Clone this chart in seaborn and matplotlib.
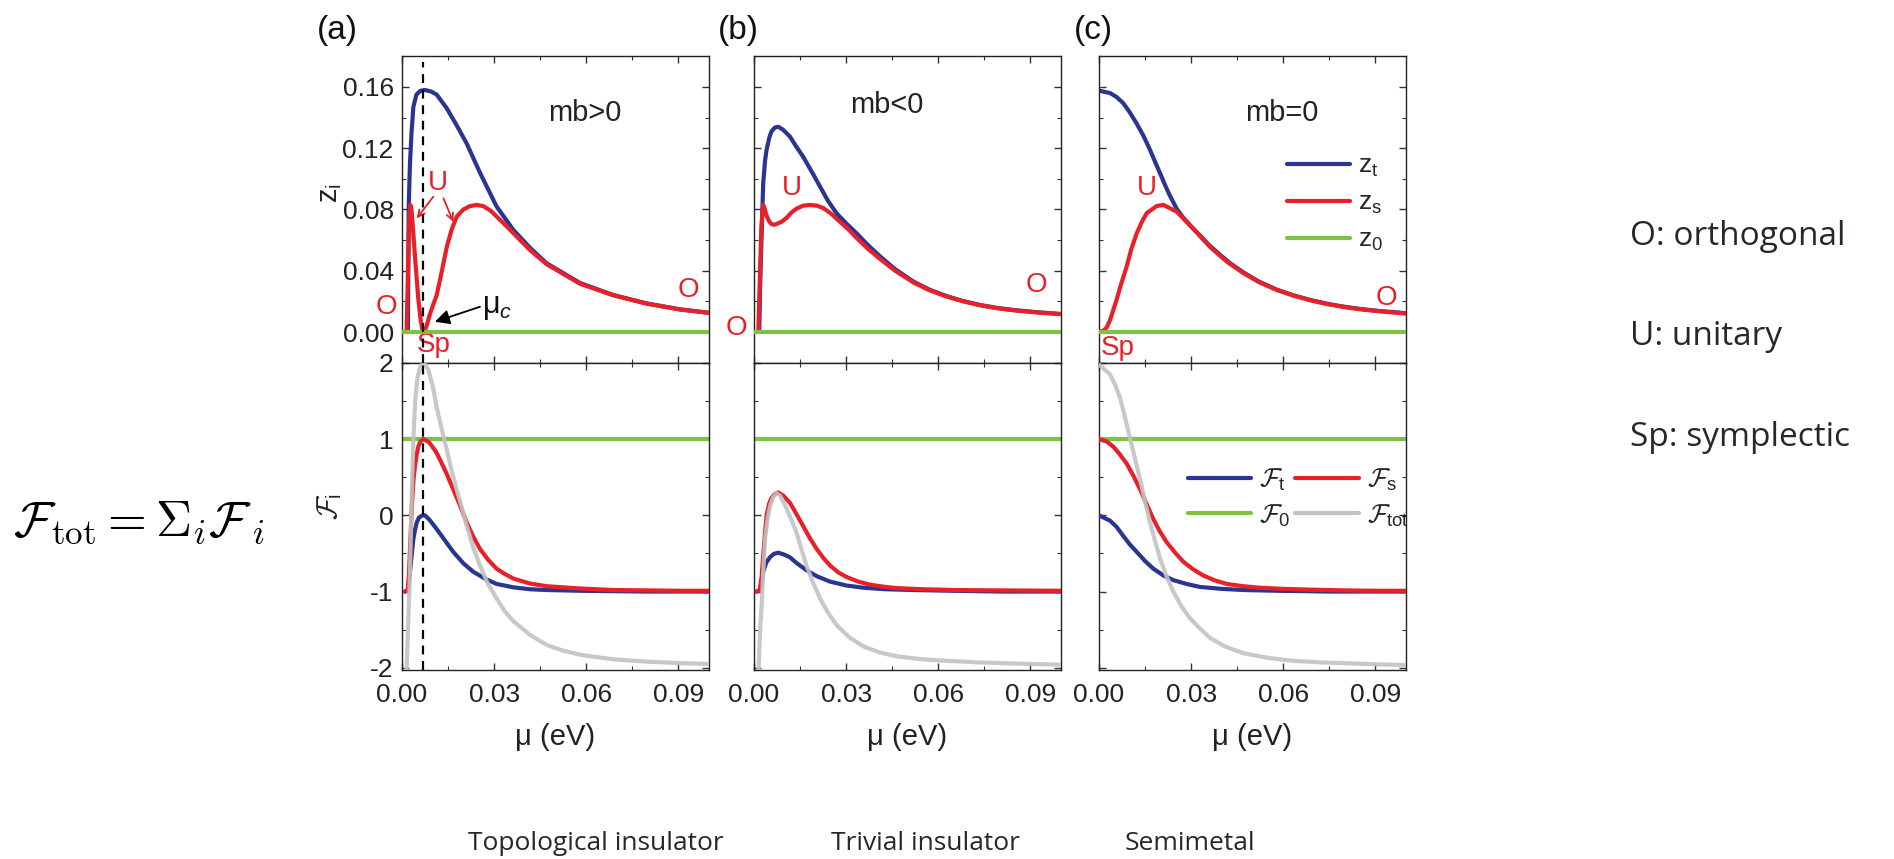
import matplotlib
matplotlib.use("Agg")
import matplotlib.pyplot as plt
import seaborn as sns
from matplotlib.ticker import MultipleLocator, FixedLocator
from matplotlib.lines import Line2D

# ---------------- data: chemical potential mu (eV) and curves ----------------
# (a) topological insulator, mb > 0
mu_a_zt = [0.0019, 0.0022, 0.0026, 0.0031, 0.0037, 0.0047, 0.0060, 0.0075, 0.0095,
           0.0113, 0.0146, 0.0178, 0.0211, 0.0254, 0.0308, 0.0363, 0.0417, 0.0471,
           0.0580, 0.0688, 0.0797, 0.0906, 0.1000]
a_zt = [0.000, 0.083, 0.110, 0.130, 0.147, 0.155, 0.1575, 0.158, 0.157,
        0.155, 0.146, 0.135, 0.123, 0.104, 0.082, 0.0666, 0.055, 0.0449,
        0.032, 0.0242, 0.0187, 0.0148, 0.0126]
mu_a_zs = [0.0015, 0.0019, 0.0023, 0.0027, 0.0031, 0.0037, 0.0045, 0.0053, 0.0060,
           0.0066, 0.0072, 0.0080, 0.0090, 0.0100, 0.0113, 0.0130, 0.0146, 0.0162,
           0.0178, 0.0200, 0.0221, 0.0243, 0.0265, 0.0290, 0.0341, 0.0380, 0.0417,
           0.0471, 0.0580, 0.0688, 0.0797, 0.0906, 0.1000]
a_zs = [0.000, 0.035, 0.070, 0.083, 0.080, 0.064, 0.042, 0.022, 0.009,
        0.002, 0.000, 0.004, 0.011, 0.017, 0.024, 0.040, 0.0557, 0.067,
        0.0753, 0.0800, 0.0822, 0.0830, 0.0822, 0.0790, 0.0690, 0.0610, 0.0535,
        0.0443, 0.0315, 0.0240, 0.0185, 0.0147, 0.0125]
mu_a_ft = [0.0010, 0.0019, 0.0026, 0.0032, 0.0037, 0.0043, 0.0048, 0.0055, 0.0065,
           0.0075, 0.0090, 0.0113, 0.0140, 0.0167, 0.0200, 0.0232, 0.0270, 0.0308,
           0.0363, 0.0417, 0.0471, 0.0580, 0.0797, 0.1000]
a_ft = [-1.00, -0.98, -0.74, -0.50, -0.31, -0.18, -0.095, -0.03, -0.003,
        0.00, -0.06, -0.18, -0.33, -0.48, -0.63, -0.74, -0.83, -0.90,
        -0.945, -0.97, -0.98, -0.99, -1.00, -1.00]
mu_a_fs = [0.0010, 0.0019, 0.0023, 0.0027, 0.0032, 0.0037, 0.0042, 0.0048, 0.0053,
           0.0060, 0.0070, 0.0080, 0.0090, 0.0110, 0.0124, 0.0145, 0.0167, 0.0190,
           0.0211, 0.0232, 0.0254, 0.0280, 0.0308, 0.0335, 0.0363, 0.0417, 0.0471,
           0.0580, 0.0688, 0.0797, 0.0906, 0.1000]
a_fs = [-1.00, -0.98, -0.75, -0.35, 0.12, 0.45, 0.64, 0.80, 0.90,
        0.97, 1.00, 0.98, 0.95, 0.84, 0.73, 0.55, 0.34, 0.12,
        -0.095, -0.28, -0.44, -0.58, -0.70, -0.77, -0.83, -0.895, -0.93,
        -0.96, -0.98, -0.985, -0.99, -0.99]
mu_a_ftot = [0.0013, 0.0016, 0.0020, 0.0024, 0.0028, 0.0032, 0.0037, 0.0043, 0.0050,
             0.0060, 0.0072, 0.0085, 0.0100, 0.0113, 0.0130, 0.0146, 0.0162, 0.0178,
             0.0195, 0.0211, 0.0232, 0.0254, 0.0280, 0.0308, 0.0335, 0.0363, 0.0417,
             0.0471, 0.0520, 0.0580, 0.0688, 0.0797, 0.0906, 0.1000]
a_ftot = [-2.30, -1.90, -1.45, -1.00, -0.40, 0.30, 1.00, 1.50, 1.80,
          1.96, 2.00, 1.92, 1.70, 1.42, 1.12, 0.86, 0.58, 0.34,
          0.10, -0.14, -0.42, -0.66, -0.90, -1.09, -1.26, -1.39, -1.57,
          -1.70, -1.77, -1.83, -1.89, -1.92, -1.94, -1.95]

# (b) trivial insulator, mb < 0
mu_b_zt = [0.0017, 0.0020, 0.0025, 0.0030, 0.0036, 0.0041, 0.0050, 0.0057, 0.0068,
           0.0079, 0.0095, 0.0117, 0.0138, 0.0160, 0.0190, 0.0215, 0.0240, 0.0269,
           0.0300, 0.0334, 0.0370, 0.0410, 0.0460, 0.0519, 0.0570, 0.0627, 0.0680,
           0.0736, 0.0790, 0.0845, 0.0920, 0.1000]
b_zt = [0.000, 0.030, 0.065, 0.097, 0.112, 0.119, 0.127, 0.131, 0.1335,
        0.134, 0.132, 0.1276, 0.121, 0.1145, 0.104, 0.095, 0.086, 0.0775,
        0.071, 0.0645, 0.057, 0.0495, 0.041, 0.033, 0.0278, 0.0235, 0.0203,
        0.0177, 0.0158, 0.0144, 0.0130, 0.0118]
mu_b_zs = [0.0014, 0.0017, 0.0020, 0.0024, 0.0028, 0.0030, 0.0034, 0.0041, 0.0050,
           0.0057, 0.0065, 0.0073, 0.0090, 0.0106, 0.0122, 0.0138, 0.0160, 0.0182,
           0.0205, 0.0225, 0.0250, 0.0280, 0.0310, 0.0334, 0.0370, 0.0410, 0.0460,
           0.0519, 0.0570, 0.0627, 0.0680, 0.0736, 0.0790, 0.0845, 0.0920, 0.1000]
b_zs = [0.000, 0.020, 0.041, 0.068, 0.080, 0.083, 0.081, 0.076, 0.072,
        0.0705, 0.070, 0.0705, 0.072, 0.0745, 0.078, 0.0805, 0.0825, 0.083,
        0.0825, 0.081, 0.0775, 0.072, 0.0665, 0.0615, 0.0545, 0.0478, 0.040,
        0.0324, 0.0274, 0.0232, 0.0201, 0.0175, 0.0156, 0.0142, 0.0128, 0.0117]
mu_b_ft = [0.0009, 0.0019, 0.0025, 0.0030, 0.0040, 0.0052, 0.0065, 0.0079, 0.0095,
           0.0117, 0.0140, 0.0171, 0.0205, 0.0248, 0.0300, 0.0356, 0.0430, 0.0520,
           0.0650, 0.0800, 0.1000]
b_ft = [-1.00, -0.98, -0.86, -0.74, -0.62, -0.55, -0.505, -0.49, -0.51,
        -0.55, -0.63, -0.72, -0.80, -0.87, -0.92, -0.95, -0.97, -0.98,
        -0.99, -1.00, -1.00]
mu_b_fs = [0.0009, 0.0019, 0.0025, 0.0030, 0.0036, 0.0041, 0.0049, 0.0057, 0.0068,
           0.0079, 0.0095, 0.0117, 0.0138, 0.0160, 0.0182, 0.0204, 0.0226, 0.0248,
           0.0275, 0.0302, 0.0340, 0.0378, 0.0420, 0.0465, 0.0550, 0.0650, 0.0800,
           0.1000]
b_fs = [-1.00, -0.98, -0.80, -0.53, -0.22, 0.00, 0.15, 0.23, 0.28,
        0.30, 0.26, 0.165, 0.02, -0.14, -0.30, -0.44, -0.56, -0.66,
        -0.75, -0.81, -0.87, -0.91, -0.935, -0.955, -0.97, -0.98, -0.985,
        -0.99]
mu_b_ftot = [0.0012, 0.0016, 0.0020, 0.0025, 0.0030, 0.0036, 0.0044, 0.0052, 0.0062,
             0.0073, 0.0085, 0.0100, 0.0118, 0.0138, 0.0155, 0.0171, 0.0192, 0.0215,
             0.0240, 0.0269, 0.0310, 0.0356, 0.0410, 0.0465, 0.0550, 0.0630, 0.0730,
             0.0850, 0.1000]
b_ftot = [-2.30, -1.90, -1.50, -1.18, -0.75, -0.31, -0.05, 0.12, 0.24,
          0.29, 0.26, 0.14, -0.02, -0.22, -0.45, -0.66, -0.88, -1.09,
          -1.27, -1.44, -1.60, -1.72, -1.80, -1.85, -1.89, -1.91, -1.93,
          -1.945, -1.96]

# (c) semimetal, mb = 0
mu_c_zt = [0.0000, 0.0036, 0.0057, 0.0079, 0.0100, 0.0123, 0.0145, 0.0166, 0.0183,
           0.0199, 0.0215, 0.0231, 0.0253, 0.0275, 0.0300, 0.0329, 0.0360, 0.0394,
           0.0430, 0.0470, 0.0520, 0.0579, 0.0630, 0.0687, 0.0740, 0.0796, 0.0850,
           0.0905, 0.1000]
c_zt = [0.1576, 0.156, 0.1535, 0.1494, 0.1435, 0.136, 0.128, 0.119, 0.111,
        0.1036, 0.096, 0.089, 0.0805, 0.0745, 0.069, 0.063, 0.0565, 0.0505,
        0.0445, 0.039, 0.033, 0.0277, 0.0242, 0.021, 0.0186, 0.0166, 0.0151,
        0.0139, 0.0123]
mu_c_zs = [0.0000, 0.0015, 0.0025, 0.0036, 0.0057, 0.0070, 0.0090, 0.0105, 0.0123,
           0.0140, 0.0155, 0.0188, 0.0210, 0.0253, 0.0307, 0.0362, 0.0416, 0.0470,
           0.0520, 0.0579, 0.0630, 0.0687, 0.0740, 0.0796, 0.0850, 0.0905, 0.1000]
c_zs = [0.000, 0.001, 0.003, 0.0078, 0.0209, 0.030, 0.0427, 0.054, 0.0645,
        0.072, 0.0775, 0.0823, 0.083, 0.0786, 0.0675, 0.0555, 0.046, 0.0385,
        0.0327, 0.0275, 0.024, 0.0208, 0.0184, 0.0164, 0.0149, 0.0137, 0.0121]
mu_c_ft = [0.0000, 0.0036, 0.0057, 0.0079, 0.0100, 0.0123, 0.0150, 0.0177, 0.0210,
           0.0242, 0.0285, 0.0329, 0.0400, 0.0470, 0.0580, 0.0750, 0.1000]
c_ft = [0.00, -0.07, -0.15, -0.27, -0.38, -0.48, -0.60, -0.70, -0.79,
        -0.85, -0.90, -0.94, -0.965, -0.98, -0.99, -1.00, -1.00]
mu_c_fs = [0.0000, 0.0025, 0.0047, 0.0068, 0.0090, 0.0112, 0.0134, 0.0155, 0.0177,
           0.0198, 0.0220, 0.0248, 0.0275, 0.0307, 0.0340, 0.0378, 0.0416, 0.0470,
           0.0524, 0.0600, 0.0687, 0.0800, 0.0900, 0.1000]
c_fs = [1.00, 0.97, 0.90, 0.80, 0.68, 0.52, 0.34, 0.15, -0.05,
        -0.21, -0.35, -0.49, -0.61, -0.71, -0.79, -0.855, -0.90, -0.93,
        -0.95, -0.965, -0.975, -0.985, -0.99, -0.99]
mu_c_ftot = [0.0000, 0.0036, 0.0052, 0.0068, 0.0084, 0.0100, 0.0117, 0.0134, 0.0150,
             0.0166, 0.0183, 0.0199, 0.0220, 0.0242, 0.0268, 0.0296, 0.0330, 0.0362,
             0.0410, 0.0470, 0.0550, 0.0633, 0.0720, 0.0796, 0.0900, 0.1000]
c_ftot = [1.98, 1.85, 1.72, 1.55, 1.30, 1.03, 0.75, 0.47, 0.18,
          -0.095, -0.34, -0.57, -0.80, -1.00, -1.19, -1.35, -1.49, -1.61,
          -1.72, -1.81, -1.87, -1.91, -1.93, -1.94, -1.955, -1.965]

# constant channels
mu_flat = [0.0, 0.1]
z0 = [0.0, 0.0]
f0 = [1.0, 1.0]

mu_c_line = 0.007          # critical chemical potential in (a)
panel_tags = ["(a)", "(b)", "(c)"]
panel_conds = ["mb>0", "mb<0", "mb=0"]
phase_names = ["Topological insulator", "Trivial insulator", "Semimetal"]
class_keys = ["O: orthogonal", "U: unitary", "Sp: symplectic"]
x_ticks = [0.00, 0.03, 0.06, 0.09]
z_ticks = [0.00, 0.04, 0.08, 0.12, 0.16]
f_ticks = [-2, -1, 0, 1, 2]

# ---------------- style ----------------
sns.set_theme(style="ticks")
plt.rcParams.update({
    "font.family": ["Liberation Sans", "DejaVu Sans"],
    "mathtext.fontset": "custom",
    "mathtext.rm": "Liberation Sans",
    "mathtext.it": "Liberation Sans:italic",
    "mathtext.bf": "Liberation Sans:bold",
    "mathtext.sf": "Liberation Sans",
    "mathtext.cal": "cmsy10",
    "axes.linewidth": 1.0,
    "axes.edgecolor": "#222222",
    "xtick.direction": "in", "ytick.direction": "in",
    "xtick.top": True, "ytick.right": True,
    "xtick.major.size": 5, "ytick.major.size": 5,
    "xtick.minor.size": 3, "ytick.minor.size": 3,
    "xtick.major.width": 1.0, "ytick.major.width": 1.0,
    "xtick.minor.width": 0.8, "ytick.minor.width": 0.8,
    "xtick.color": "#333333", "ytick.color": "#333333",
    "xtick.labelsize": 19, "ytick.labelsize": 19,
    "xtick.labelcolor": "#222222", "ytick.labelcolor": "#222222",
})

BLUE = "#2a3591"
RED = "#e8202a"
GREEN = "#7dc242"
GRAY = "#c2c2c2"
LW = 3.0

W, H = 1894, 859
fig = plt.figure(figsize=(W / 100, H / 100), dpi=100)


def rect(x0, x1, y0, y1):
    return [x0 / W, 1 - y1 / H, (x1 - x0) / W, (y1 - y0) / H]


cols = [(402, 709), (754, 1061), (1099, 1406)]
tag_x = [337, 738, 1093]
top_y = (56, 363)
bot_y = (363, 670)

z_data = [
    (mu_a_zt, a_zt, mu_a_zs, a_zs),
    (mu_b_zt, b_zt, mu_b_zs, b_zs),
    (mu_c_zt, c_zt, mu_c_zs, c_zs),
]
f_data = [
    (mu_a_ft, a_ft, mu_a_fs, a_fs, mu_a_ftot, a_ftot),
    (mu_b_ft, b_ft, mu_b_fs, b_fs, mu_b_ftot, b_ftot),
    (mu_c_ft, c_ft, mu_c_fs, c_fs, mu_c_ftot, c_ftot),
]


def line(ax, x, y, color, lw=LW, z=2, alpha=1.0):
    sns.lineplot(x=x, y=y, ax=ax, color=color, linewidth=lw, sort=False,
                 estimator=None, legend=False, zorder=z, alpha=alpha)


def style_axes(ax, ylim, yticks, ymin_step, show_x, show_y, fmt):
    ax.set_xlim(0, 0.1)
    ax.set_ylim(*ylim)
    ax.xaxis.set_major_locator(FixedLocator(x_ticks))
    ax.xaxis.set_minor_locator(MultipleLocator(0.015))
    ax.yaxis.set_major_locator(FixedLocator(yticks))
    ax.yaxis.set_minor_locator(MultipleLocator(ymin_step))
    ax.tick_params(which="both", direction="in", top=True, right=True)
    ax.tick_params(axis="y", pad=6)
    ax.tick_params(axis="x", pad=9)
    ax.set_xlabel("")
    ax.set_ylabel("")
    if show_x:
        ax.set_xticklabels([f"{t:.2f}" for t in x_ticks])
    else:
        ax.set_xticklabels([])
    if show_y:
        ax.set_yticklabels([fmt(t) for t in yticks])
    else:
        ax.set_yticklabels([])


axes_top, axes_bot = [], []
for i, (x0, x1) in enumerate(cols):
    axt = fig.add_axes(rect(x0, x1, *top_y))
    axb = fig.add_axes(rect(x0, x1, *bot_y))
    axes_top.append(axt)
    axes_bot.append(axb)

    mzt, zt, mzs, zs = z_data[i]
    line(axt, mzt, zt, BLUE, z=2)
    line(axt, mzs, zs, RED, z=3)
    line(axt, mu_flat, z0, GREEN, z=4)
    style_axes(axt, (-0.0202, 0.1802), z_ticks, 0.02, False, i == 0,
               lambda t: f"{t:.2f}")

    mft, ft, mfs, fs, mftot, ftot = f_data[i]
    line(axb, mu_flat, f0, GREEN, z=2)
    line(axb, mft, ft, BLUE, z=3)
    line(axb, mfs, fs, RED, z=4)
    line(axb, mftot, ftot, GRAY, z=5, alpha=0.9)
    style_axes(axb, (-2.03, 2.0), f_ticks, 0.5, True, i == 0,
               lambda t: f"{t:d}")
    axb.set_xlabel("μ (eV)", fontsize=21, labelpad=12, color="#222222")

    fig.text(tag_x[i] / W, 1 - 30 / H, panel_tags[i], fontsize=24,
             ha="center", va="center", color="#111111")

# condition labels
axes_top[0].text(0.0596, 0.143, panel_conds[0], fontsize=21, ha="center", va="center", color="#222222")
axes_top[1].text(0.0433, 0.148, panel_conds[1], fontsize=21, ha="center", va="center", color="#222222")
axes_top[2].text(0.0596, 0.143, panel_conds[2], fontsize=21, ha="center", va="center", color="#222222")

# symmetry-class markers
red_kw = dict(fontsize=20, color=RED, ha="center", va="center")
ax = axes_top[0]
ax.text(0.0117, 0.097, "U", **red_kw)
ax.text(-0.0050, 0.0165, "O", **red_kw)
ax.text(0.0933, 0.0274, "O", **red_kw)
ax.text(0.0102, -0.0085, "Sp", **red_kw)
arr_red = dict(arrowstyle="->", color=RED, lw=1.3, shrinkA=0, shrinkB=0)
ax.annotate("", xy=(0.0048, 0.0742), xytext=(0.0102, 0.0884), arrowprops=arr_red)
ax.annotate("", xy=(0.0167, 0.0720), xytext=(0.0135, 0.0873), arrowprops=arr_red)
ax.annotate("", xy=(0.0107, 0.0067), xytext=(0.0254, 0.0165),
            arrowprops=dict(arrowstyle="-|>", color="black", lw=1.3,
                            mutation_scale=22, shrinkA=0, shrinkB=0))
ax.text(0.0262, 0.0165, r"μ$_{\mathit{c}}$", fontsize=22, ha="left", va="center", color="#111111")

ax = axes_top[1]
ax.text(0.0122, 0.094, "U", **red_kw)
ax.text(-0.0057, 0.0024, "O", **red_kw)
ax.text(0.0920, 0.0307, "O", **red_kw)

ax = axes_top[2]
ax.text(0.0157, 0.094, "U", **red_kw)
ax.text(0.0937, 0.0220, "O", **red_kw)
ax.text(0.0062, -0.0107, "Sp", **red_kw)

# critical chemical potential in (a)
axes_top[0].axvline(mu_c_line, ymin=0, ymax=0.98, color="black", lw=1.6,
                    ls=(0, (4, 3)), zorder=6)
axes_bot[0].axvline(mu_c_line, color="black", lw=1.6, ls=(0, (4, 3)), zorder=6)

# legends in (c)
hz = [Line2D([], [], color=c, lw=LW) for c in (BLUE, RED, GREEN)]
axes_top[2].legend(hz, [r"$\mathrm{z}_\mathrm{t}$", r"$\mathrm{z}_\mathrm{s}$", r"$\mathrm{z}_\mathrm{0}$"],
                   loc="upper left", bbox_to_anchor=(1287 / W, 1 - 154 / H),
                   bbox_transform=fig.transFigure, frameon=False, fontsize=19,
                   handlelength=2.4, handletextpad=0.3, labelspacing=0.45,
                   borderpad=0, borderaxespad=0)
hf = [Line2D([], [], color=c, lw=LW) for c in (BLUE, GREEN, RED, GRAY)]
axes_bot[2].legend(hf, [r"$\mathcal{F}_\mathrm{t}$", r"$\mathcal{F}_\mathrm{0}$",
                        r"$\mathcal{F}_\mathrm{s}$", r"$\mathcal{F}_\mathrm{tot}$"],
                   ncol=2, loc="upper left", bbox_to_anchor=(1188 / W, 1 - 467 / H),
                   bbox_transform=fig.transFigure, frameon=False, fontsize=19,
                   handlelength=2.4, handletextpad=0.3, labelspacing=0.35,
                   columnspacing=0.2, borderpad=0, borderaxespad=0)

# y labels
fig.text(330 / W, 1 - 193 / H, r"$\mathrm{z}_\mathrm{i}$", rotation=90, fontsize=21,
         ha="center", va="center", color="#222222")
fig.text(330 / W, 1 - 507 / H, r"$\mathcal{F}_\mathrm{i}$", rotation=90, fontsize=21,
         ha="center", va="center", color="#222222")

# total free-energy relation
fig.text(13 / W, 1 - 523 / H, r"$\mathcal{F}_{\rm tot}=\Sigma_i\mathcal{F}_{\,i}$",
         fontsize=36, ha="left", va="center", color="black", math_fontfamily="cm")

# side keys and phase names
side_font = ["Open Sans", "DejaVu Sans"]
for k, yy in zip(class_keys, (245, 345, 446)):
    fig.text(1630 / W, 1 - yy / H, k, fontsize=24, ha="left", va="baseline",
             family=side_font, color="#2a2623")
for name, xc in zip(phase_names, (596, 925, 1190)):
    fig.text(xc / W, 1 - 850 / H, name, fontsize=19, ha="center", va="baseline",
             family=side_font, color="#2a2623")

fig.savefig("out.png", dpi=100)
